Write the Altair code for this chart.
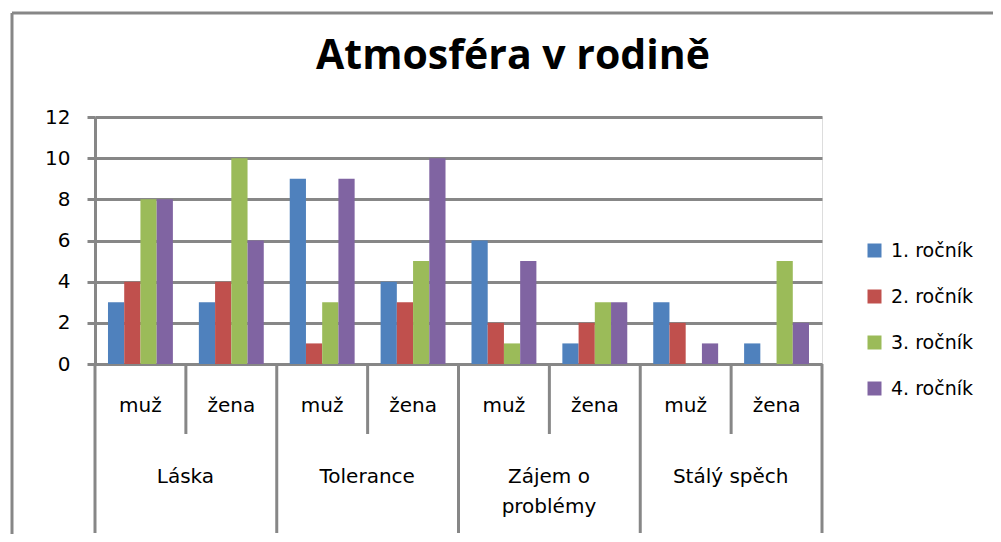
import altair as alt
import pandas as pd

categories = ["Láska", "Tolerance", "Zájem o\nproblémy", "Stálý spěch"]
genders = ["muž", "žena"]
series = ["1. ročník", "2. ročník", "3. ročník", "4. ročník"]
colors = ["#4F81BD", "#C0504D", "#9BBB59", "#8064A2"]

# values[category][gender] -> list over series
values = {
    "Láska": {"muž": [3, 4, 8, 8], "žena": [3, 4, 10, 6]},
    "Tolerance": {"muž": [9, 1, 3, 9], "žena": [4, 3, 5, 10]},
    "Zájem o\nproblémy": {"muž": [6, 2, 1, 5], "žena": [1, 2, 3, 3]},
    "Stálý spěch": {"muž": [3, 2, 0, 1], "žena": [1, 0, 5, 2]},
}
y_ticks = [0, 2, 4, 6, 8, 10, 12]
title_text = "Atmosféra v rodině"

FONT = "DejaVu Sans"
FS = 20
GREY = "#878787"

subs = [f"{c}|{g}" for c in categories for g in genders]
rows = []
for c in categories:
    for g in genders:
        for s, v in zip(series, values[c][g]):
            rows.append({"sub": f"{c}|{g}", "cat": c, "gender": g, "series": s, "value": v})
df = pd.DataFrame(rows)

sub_df = pd.DataFrame([{"sub": f"{c}|{g}", "gender": g} for c in categories for g in genders])
cat_df = pd.DataFrame([{"sub": f"{c}|muž", "cat": c} for c in categories])
zena_df = pd.DataFrame([{"sub": f"{c}|žena"} for c in categories])
last_df = pd.DataFrame([{"sub": subs[-1]}])
one = pd.DataFrame([{"t": title_text}])

xscale = alt.Scale(domain=subs, paddingInner=0, paddingOuter=0)


def X(bp=0.5):
    return alt.X("sub:N", scale=xscale, axis=None, bandPosition=bp)


bars = alt.Chart(df).mark_bar().encode(
    x=alt.X("sub:N", scale=xscale, axis=None),
    xOffset=alt.XOffset("series:N", sort=series,
                        scale=alt.Scale(paddingInner=0, paddingOuter=0.8)),
    y=alt.Y("value:Q", scale=alt.Scale(domain=[0, 12], nice=False),
            axis=alt.Axis(values=y_ticks, title=None, grid=True, gridColor=GREY,
                          gridWidth=3, domainColor=GREY, domainWidth=3,
                          tickColor=GREY, tickWidth=3, tickSize=8,
                          labelFont=FONT, labelFontSize=FS, labelColor="black",
                          labelPadding=17)),
    color=alt.Color("series:N", sort=series,
                    scale=alt.Scale(domain=series, range=colors),
                    legend=alt.Legend(title=None, orient="none", legendX=770, legendY=124,
                                      symbolType="square", symbolSize=196,
                                      symbolStrokeWidth=0, labelFont=FONT,
                                      labelFontSize=19, labelColor="black",
                                      labelOffset=7, rowPadding=26)),
)

short_div = alt.Chart(zena_df).mark_rule(color=GREY, strokeWidth=3).encode(
    x=X(0), y=alt.value(247), y2=alt.value(317))
long_div = alt.Chart(cat_df).mark_rule(color=GREY, strokeWidth=3).encode(
    x=X(0), y=alt.value(247), y2=alt.value(416))
end_div = alt.Chart(last_df).mark_rule(color=GREY, strokeWidth=3).encode(
    x=X(1), y=alt.value(247), y2=alt.value(416))

gender_lbl = alt.Chart(sub_df).mark_text(font=FONT, fontSize=FS, color="black",
                                         baseline="middle").encode(
    x=X(), y=alt.value(289), text="gender:N")
cat_lbl = alt.Chart(cat_df).mark_text(font=FONT, fontSize=FS, color="black",
                                      baseline="top", lineBreak="\n", lineHeight=30,
                                      dx=45).encode(
    x=X(), y=alt.value(350), text="cat:N")

title = alt.Chart(one).mark_text(font="Open Sans", fontSize=41, fontWeight="bold",
                                 color="black", baseline="alphabetic").encode(
    x=alt.value(418), y=alt.value(-48), text="t:N")

border_l = alt.Chart(one).mark_rule(color=GREY, strokeWidth=3).encode(
    x=alt.value(-83), y=alt.value(-104), y2=alt.value(500))
border_t = alt.Chart(one).mark_rule(color=GREY, strokeWidth=3).encode(
    x=alt.value(-83), x2=alt.value(1000), y=alt.value(-104))

chart = alt.layer(
    border_l, border_t, bars, short_div, long_div, end_div, gender_lbl, cat_lbl, title
).properties(
    width=727, height=247,
    autosize=alt.AutoSizeParams(type="none"),
    padding={"left": 87, "top": 109, "right": 171, "bottom": 170},
).configure_view(stroke=None).configure(background="white")

chart.save("out.html", embed_options={"renderer": "svg", "actions": False})
